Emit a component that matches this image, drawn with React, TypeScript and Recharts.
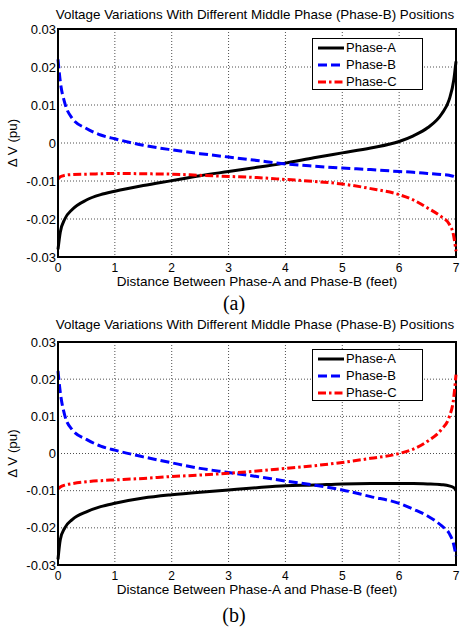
import React from 'react';
import { LineChart, Line, XAxis, YAxis, CartesianGrid, Legend, ReferenceArea } from 'recharts';

// ---------- data ----------
const xValues = [0, 0.04, 0.12, 0.25, 0.5, 0.75, 1, 1.5, 2, 2.5, 3, 3.5, 4, 4.5, 5, 5.5, 6, 6.25, 6.5, 6.75, 6.88, 6.96, 7];

// panel (a)
const phaseA_a = [-0.028, -0.0235, -0.02, -0.0175, -0.015, -0.0136, -0.0127, -0.0112, -0.0099, -0.0086, -0.0075, -0.0064, -0.0053, -0.0039, -0.0026, -0.0013, 0.0004, 0.0019, 0.004, 0.0077, 0.0114, 0.0165, 0.0215];
const phaseB_a = [0.022, 0.0162, 0.0105, 0.0065, 0.0038, 0.0021, 0.0011, -0.0006, -0.0018, -0.0028, -0.0037, -0.0046, -0.0055, -0.0061, -0.0066, -0.007, -0.0075, -0.0077, -0.008, -0.0083, -0.0085, -0.0088, -0.0091];
const phaseC_a = [-0.0095, -0.0089, -0.0085, -0.0083, -0.0082, -0.0081, -0.008, -0.0081, -0.0082, -0.0085, -0.0088, -0.0091, -0.0096, -0.0101, -0.0108, -0.012, -0.0136, -0.015, -0.0171, -0.0195, -0.0213, -0.0245, -0.0285];

// panel (b)
const phaseA_b = [-0.0285, -0.0232, -0.02, -0.0178, -0.0157, -0.0143, -0.0134, -0.012, -0.0111, -0.0104, -0.0098, -0.0092, -0.0087, -0.0085, -0.0082, -0.0081, -0.0081, -0.0081, -0.0082, -0.0084, -0.0087, -0.0092, -0.0098];
const phaseB_b = [0.0222, 0.0165, 0.0102, 0.0064, 0.0038, 0.002, 0.0009, -0.0009, -0.0025, -0.004, -0.0051, -0.0062, -0.0074, -0.0085, -0.0098, -0.0116, -0.0134, -0.015, -0.0168, -0.0195, -0.0215, -0.0245, -0.0275];
const phaseC_b = [-0.0095, -0.009, -0.0085, -0.0081, -0.0076, -0.0073, -0.0071, -0.0067, -0.0062, -0.0058, -0.0053, -0.0047, -0.004, -0.0033, -0.0024, -0.0013, 0, 0.0012, 0.0033, 0.0066, 0.0098, 0.015, 0.0212];

const xTicks = [0, 1, 2, 3, 4, 5, 6, 7];
const yTicks = [-0.03, -0.02, -0.01, 0, 0.01, 0.02, 0.03];
const seriesNames = ['Phase-A', 'Phase-B', 'Phase-C'];
const titleText = 'Voltage Variations With Different Middle Phase (Phase-B) Positions';
const xLabelText = 'Distance Between Phase-A and Phase-B (feet)';
const yLabelText = 'Δ V (pu)';
const captions = ['(a)', '(b)'];

// ---------- styling ----------
const FONT = '"Liberation Sans", Arial, Helvetica, sans-serif';
const SERIF = '"Liberation Serif", "Times New Roman", serif';
const seriesStyles = [
  { key: 'a', color: '#000000', dash: undefined as string | undefined },
  { key: 'b', color: '#0000ff', dash: '9 4' },
  { key: 'c', color: '#ff0000', dash: '8 3 2.5 3' },
];

function buildRows(a: number[], b: number[], c: number[]) {
  return xValues.map((x, i) => ({ x, a: a[i], b: b[i], c: c[i] }));
}

const rowsA = buildRows(phaseA_a, phaseB_a, phaseC_a);
const rowsB = buildRows(phaseA_b, phaseB_b, phaseC_b);

function LegendBox() {
  return (
    <div
      style={{
        border: '1px solid #000',
        background: '#fff',
        width: 111,
        height: 52,
        boxSizing: 'border-box',
      }}
    >
      {seriesStyles.map((s, i) => (
        <div key={s.key} style={{ display: 'flex', alignItems: 'center', height: 17, lineHeight: '17px' }}>
          <svg width={26} height={6} style={{ marginLeft: 5, marginRight: 2, display: 'block' }}>
            <line x1={0} y1={3} x2={26} y2={3} stroke={s.color} strokeWidth={3} strokeDasharray={s.dash} />
          </svg>
          <span style={{ fontFamily: FONT, fontSize: 13, color: '#000' }}>{seriesNames[i]}</span>
        </div>
      ))}
    </div>
  );
}

function YLabel(props: any) {
  const vb = props.viewBox || { x: 0, y: 29, width: 58, height: 228 };
  const cx = vb.x + 12;
  const cy = vb.y + vb.height / 2;
  return (
    <text
      x={cx}
      y={cy}
      transform={`rotate(-90, ${cx}, ${cy})`}
      textAnchor="middle"
      dominantBaseline="central"
      fill="#000"
      fontSize={13.4}
      fontFamily={FONT}
    >
      {yLabelText}
    </text>
  );
}

function Panel({ rows, height, labelOffset, legendTop }: { rows: any[]; height: number; labelOffset: number; legendTop: number }) {
  return (
    <LineChart width={461} height={height} data={rows} margin={{ top: 29, right: 5, bottom: 0, left: 0 }}>
      <CartesianGrid stroke="#222" strokeDasharray="1 2" strokeWidth={0.8} />
      <XAxis
        dataKey="x"
        type="number"
        domain={[0, 7]}
        ticks={xTicks}
        interval={0}
        tickLine={false}
        tickSize={4}
        tickMargin={2}
        height={33}
        axisLine={{ stroke: '#000', strokeWidth: 2 }}
        tick={{ fill: '#000', fontSize: 12, fontFamily: FONT }}
        label={{ value: xLabelText, position: 'insideBottom', offset: labelOffset, fill: '#000', fontSize: 13.5, fontFamily: FONT }}
      />
      <YAxis
        type="number"
        domain={[-0.03, 0.03]}
        ticks={yTicks}
        interval={0}
        width={58}
        tickLine={false}
        tickSize={1}
        tickMargin={1}
        axisLine={{ stroke: '#000', strokeWidth: 2 }}
        tick={{ fill: '#000', fontSize: 13, fontFamily: FONT }}
        tickFormatter={(v: number) => (v === 0 ? '0' : v.toFixed(2))}
        label={{ content: (p: any) => <YLabel {...p} /> }}
      />
      <Legend
        layout="vertical"
        align="center"
        verticalAlign="middle"
        content={() => <LegendBox />}
        wrapperStyle={{ position: 'absolute', left: 312, top: legendTop, width: 111, height: 52 }}
      />
      {seriesStyles.map((s, i) => (
        <Line
          key={s.key}
          dataKey={s.key}
          name={seriesNames[i]}
          type="monotone"
          stroke={s.color}
          strokeWidth={3}
          strokeDasharray={s.dash}
          dot={false}
          activeDot={false}
          isAnimationActive={false}
        />
      ))}
      <ReferenceArea
        x1={0}
        x2={7}
        y1={-0.03}
        y2={0.03}
        fill="none"
        fillOpacity={0}
        stroke="#000"
        strokeWidth={2}
        strokeOpacity={1}
        ifOverflow="visible"
      />
    </LineChart>
  );
}

export default function App() {
  const titleStyle: React.CSSProperties = {
    position: 'absolute',
    left: 0,
    width: 510,
    textAlign: 'center',
    fontFamily: FONT,
    fontSize: 13.4,
    lineHeight: '14px',
    color: '#000',
    whiteSpace: 'nowrap',
  };
  const capStyle: React.CSSProperties = {
    position: 'absolute',
    left: 0,
    width: 468,
    textAlign: 'center',
    fontFamily: SERIF,
    fontSize: 20,
    lineHeight: '20px',
    color: '#000',
  };
  return (
    <div style={{ position: 'absolute', left: 0, top: 0, width: 461, height: 627, background: '#fff', overflow: 'hidden' }}>
      <div style={{ ...titleStyle, top: 8 }}>{titleText}</div>
      <div style={{ position: 'absolute', left: 0, top: 0 }}>
        <Panel rows={rowsA} height={290} labelOffset={4} legendTop={38} />
      </div>
      <div style={{ ...capStyle, top: 293 }}>{captions[0]}</div>
      <div style={{ ...titleStyle, top: 318 }}>{titleText}</div>
      <div style={{ position: 'absolute', left: 0, top: 313 }}>
        <Panel rows={rowsB} height={285} labelOffset={4} legendTop={36} />
      </div>
      <div style={{ ...capStyle, top: 605 }}>{captions[1]}</div>
    </div>
  );
}
